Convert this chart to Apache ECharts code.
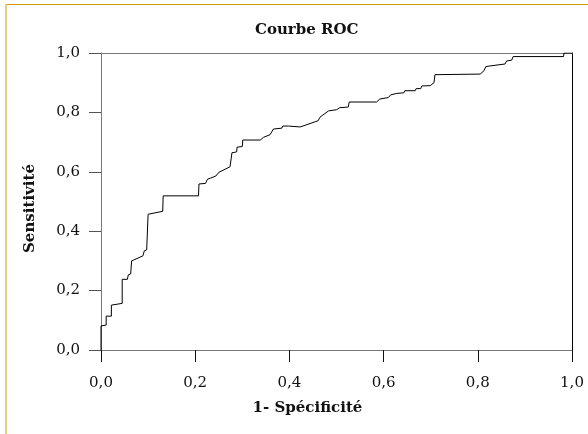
<!DOCTYPE html>
<html>
<head>
<meta charset="utf-8">
<script src="https://cdn.jsdelivr.net/npm/echarts@6/dist/echarts.min.js"></script>
<style>
html,body{margin:0;padding:0;background:#fff;}
#c{width:588px;height:434px;}
</style>
</head>
<body>
<div id="c"></div>
<script>
// ROC curve data
const fpr = [0, 0, 0.011, 0.011, 0.022, 0.022, 0.026, 0.045, 0.045, 0.056, 0.058, 0.063, 0.065, 0.089, 0.092, 0.097, 0.100, 0.131, 0.132, 0.207, 0.208, 0.222, 0.226, 0.233, 0.244, 0.250, 0.274, 0.278, 0.278, 0.288, 0.289, 0.300, 0.301, 0.338, 0.345, 0.359, 0.366, 0.384, 0.386, 0.398, 0.423, 0.454, 0.461, 0.465, 0.483, 0.500, 0.507, 0.525, 0.527, 0.585, 0.592, 0.610, 0.615, 0.628, 0.643, 0.645, 0.667, 0.669, 0.679, 0.681, 0.699, 0.707, 0.709, 0.805, 0.813, 0.817, 0.824, 0.826, 0.858, 0.861, 0.872, 0.875, 0.982, 0.983, 1.0];
const tpr = [0, 0.081, 0.084, 0.114, 0.114, 0.151, 0.157, 0.157, 0.238, 0.238, 0.253, 0.256, 0.300, 0.317, 0.334, 0.337, 0.457, 0.467, 0.519, 0.519, 0.559, 0.561, 0.575, 0.579, 0.586, 0.598, 0.617, 0.620, 0.664, 0.667, 0.683, 0.685, 0.707, 0.707, 0.716, 0.725, 0.744, 0.747, 0.754, 0.754, 0.751, 0.768, 0.772, 0.784, 0.805, 0.809, 0.816, 0.818, 0.835, 0.835, 0.845, 0.850, 0.859, 0.864, 0.866, 0.873, 0.873, 0.880, 0.880, 0.889, 0.890, 0.900, 0.927, 0.929, 0.940, 0.954, 0.956, 0.962, 0.963, 0.973, 0.976, 0.988, 0.988, 1.0, 1.0];
const tickLabels = ['0,0', '0,2', '0,4', '0,6', '0,8', '1,0'];
const titleText = 'Courbe ROC';
const xName = '1- Spécificité';
const yName = 'Sensitivité';

const FONT = '"DejaVu Serif", "Liberation Serif", serif';
const chart = echarts.init(document.getElementById('c'), null, {renderer: 'canvas'});
const fmt = v => tickLabels[Math.round(v * 5)];
const points = fpr.map((x, i) => [x, tpr[i]]);

chart.setOption({
  animation: false,
  backgroundColor: '#fff',
  title: {
    text: titleText, left: 250, top: 18,
    textStyle: {fontFamily: FONT, fontWeight: 'bold', fontSize: 15, color: '#111'}
  },
  grid: {left: 101, right: 16, top: 53, bottom: 84, containLabel: false},
  graphic: [
    {type: 'rect', shape: {x: 5, y: 4, width: 583, height: 1}, style: {fill: '#CC9A06'}, silent: true},
    {type: 'rect', shape: {x: 5, y: 4, width: 2, height: 430}, style: {fill: '#EACB80'}, silent: true}
  ],
  xAxis: [{
    type: 'value', min: 0, max: 1, interval: 0.2, position: 'bottom',
    name: xName, nameLocation: 'middle', nameGap: 51,
    nameTextStyle: {fontFamily: FONT, fontWeight: 'bold', fontSize: 15, color: '#111', padding: [0, 58, 0, 0]},
    axisLine: {show: true, onZero: false, lineStyle: {color: '#777', width: 1}},
    axisTick: {show: true, length: 12, lineStyle: {color: '#111', width: 1}},
    axisLabel: {formatter: fmt, margin: 26, fontFamily: FONT, fontSize: 15, color: '#111'},
    splitLine: {show: false}
  }, {
    type: 'value', min: 0, max: 1, position: 'top',
    axisLine: {show: true, onZero: false, lineStyle: {color: '#777', width: 1}},
    axisTick: {show: false}, axisLabel: {show: false}, splitLine: {show: false}
  }],
  yAxis: [{
    type: 'value', min: 0, max: 1, interval: 0.2, position: 'left',
    name: yName, nameLocation: 'middle', nameGap: 63, nameRotate: 90,
    nameTextStyle: {fontFamily: FONT, fontWeight: 'bold', fontSize: 15, color: '#111', padding: [0, 14, 0, 0]},
    axisLine: {show: true, onZero: false, lineStyle: {color: '#777', width: 1}},
    axisTick: {show: true, length: 12, lineStyle: {color: '#555', width: 1}},
    axisLabel: {formatter: fmt, margin: 21, fontFamily: FONT, fontSize: 15, color: '#111'},
    splitLine: {show: false}
  }, {
    type: 'value', min: 0, max: 1, position: 'right',
    axisLine: {show: true, onZero: false, lineStyle: {color: '#000', width: 1}},
    axisTick: {show: false}, axisLabel: {show: false}, splitLine: {show: false}
  }],
  series: [{
    type: 'line', data: points, xAxisIndex: 0, yAxisIndex: 0,
    showSymbol: false, symbol: 'none',
    lineStyle: {color: '#000', width: 1}
  }]
});
</script>
</body>
</html>
